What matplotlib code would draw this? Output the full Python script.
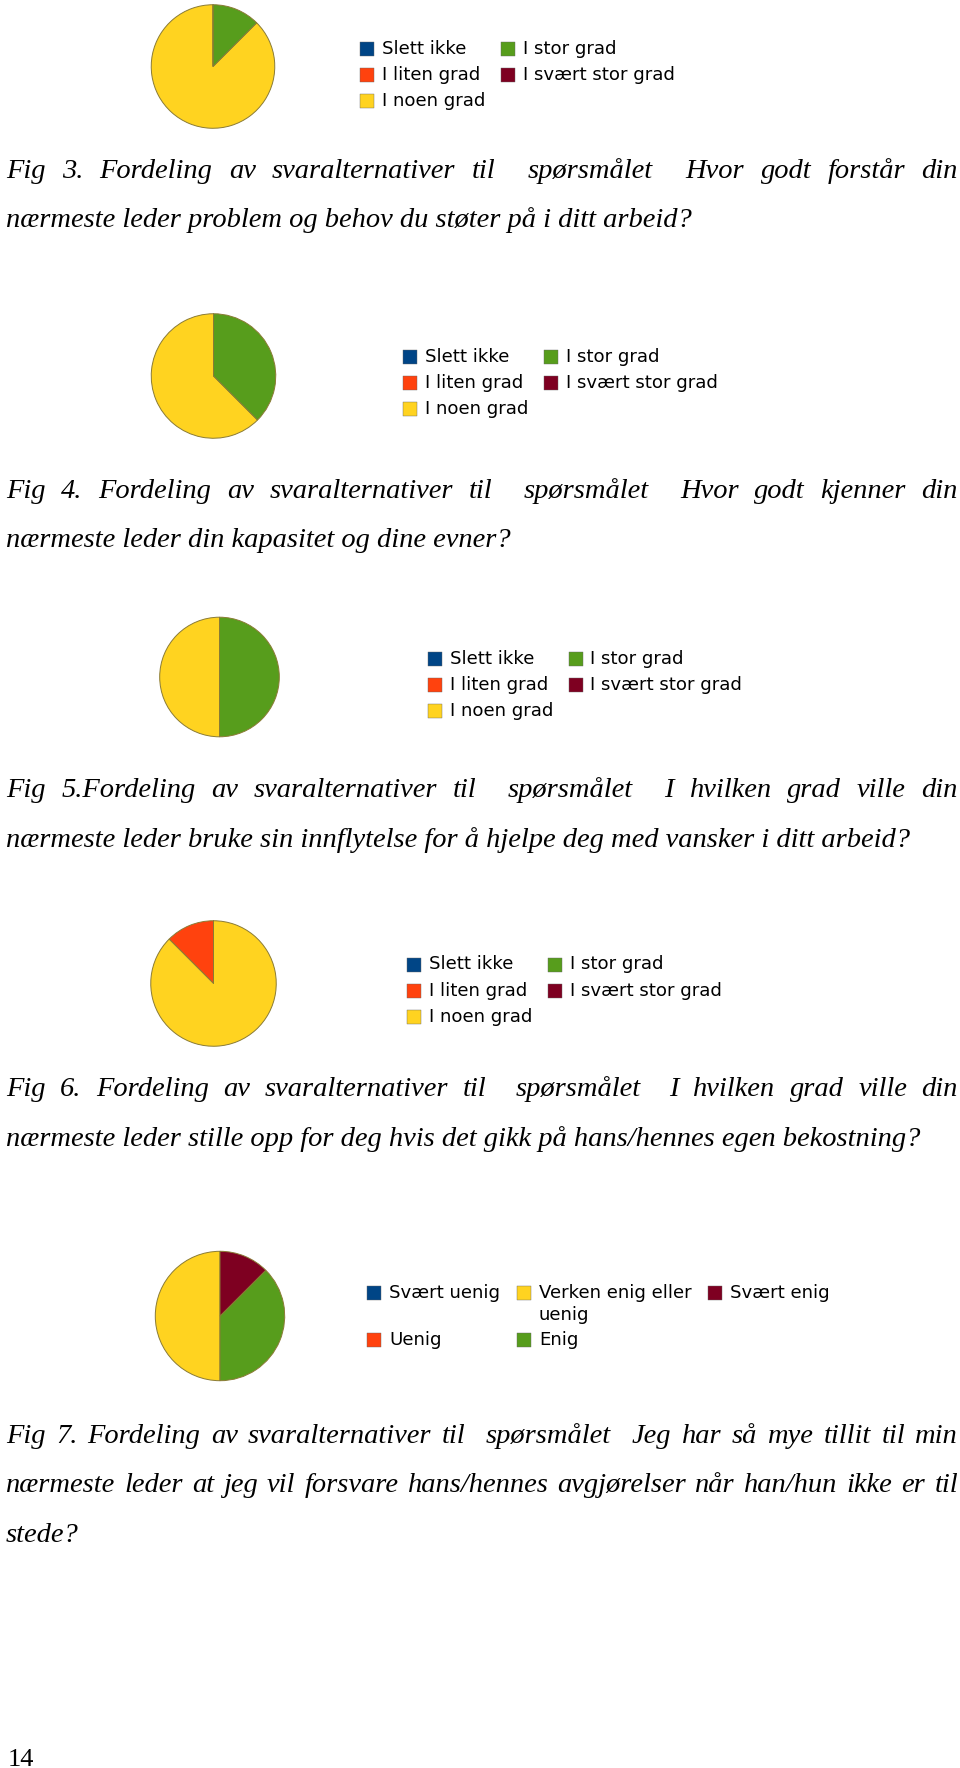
import matplotlib
matplotlib.use('Agg')
import matplotlib.pyplot as plt
from matplotlib.patches import Rectangle

W, H = 960, 1768

# answer categories and colours (LibreOffice default palette)
grad_labels = ['Slett ikke', 'I liten grad', 'I noen grad', 'I stor grad', 'I svært stor grad']
enig_labels = ['Svært uenig', 'Uenig', 'Verken enig eller\nuenig', 'Enig', 'Svært enig']
colors = ['#004586', '#ff420e', '#ffd320', '#579d1c', '#7e0021']

# number of answers per category
fig3_counts = [0, 0, 7, 1, 0]
fig4_counts = [0, 0, 5, 3, 0]
fig5_counts = [0, 0, 4, 4, 0]
fig6_counts = [0, 1, 7, 0, 0]
fig7_counts = [0, 0, 4, 3, 1]

fig3_text = ['Fig 3. Fordeling av svaralternativer til  spørsmålet  Hvor godt forstår din',
             'nærmeste leder problem og behov du støter på i ditt arbeid?']
fig4_text = ['Fig 4. Fordeling av svaralternativer til  spørsmålet  Hvor godt kjenner din',
             'nærmeste leder din kapasitet og dine evner?']
fig5_text = ['Fig 5.Fordeling av svaralternativer til  spørsmålet  I hvilken grad ville din',
             'nærmeste leder bruke sin innflytelse for å hjelpe deg med vansker i ditt arbeid?']
fig6_text = ['Fig 6. Fordeling av svaralternativer til  spørsmålet  I hvilken grad ville din',
             'nærmeste leder stille opp for deg hvis det gikk på hans/hennes egen bekostning?']
fig7_text = ['Fig 7. Fordeling av svaralternativer til  spørsmålet  Jeg har så mye tillit til min',
             'nærmeste leder at jeg vil forsvare hans/hennes avgjørelser når han/hun ikke er til',
             'stede?']
page_no = '14'

fig = plt.figure(figsize=(W / 100, H / 100), dpi=100)
fig.patch.set_facecolor('white')
renderer = fig.canvas.get_renderer()

cap_font = dict(family='Liberation Serif', style='italic', size=20.5)
leg_font = dict(family='DejaVu Sans', size=13.1)


def fx(x):
    return x / W


def fy(y):
    return 1 - y / H


#Draw one pie into its own axes, centre and radius in pixels
def draw_pie(counts, cx, cy, r):
    ax = fig.add_axes([fx(cx - r), fy(cy + r), 2 * r / W, 2 * r / H])
    ax.pie(counts, colors=colors, startangle=90, counterclock=True, radius=1,
           wedgeprops=dict(edgecolor='#8a7b35', linewidth=0.7))
    ax.set_xlim(-1.02, 1.02)
    ax.set_ylim(-1.02, 1.02)
    ax.set_aspect('auto')
    ax.axis('off')


#Legend is filled column by column like in the original
def draw_legend(labels, x0, y0, col_step, nrows, row_step=26):
    sq = 14
    for i, lab in enumerate(labels):
        col = i // nrows
        row = i % nrows
        x = x0 + sum(col_step[:col])
        y = y0 + row * row_step
        fig.patches.append(Rectangle((fx(x), fy(y + sq / 2)), sq / W, sq / H,
                                     transform=fig.transFigure, facecolor=colors[i],
                                     edgecolor='#666666', linewidth=0.3))
        for k, ln in enumerate(lab.split('\n')):
            fig.text(fx(x + 22), fy(y + k * 22), ln, ha='left', va='center', **leg_font)


def text_width(s):
    t = fig.text(0, 0, s, **cap_font)
    w = t.get_window_extent(renderer).width
    t.remove()
    return w


#Justified line: spread the spaces so the line fills the text width
def justify(line, y, left=6, right=958):
    words = line.split(' ')
    n_sp = len(words) - 1
    widths = [text_width(w) if w else 0 for w in words]
    gap = (right - left - sum(widths)) / n_sp
    x = left
    for w, wd in zip(words, widths):
        if w:
            fig.text(fx(x), fy(y), w, ha='left', va='baseline', **cap_font)
        x += wd + gap


def caption(lines, y0, step=49.5):
    for i, ln in enumerate(lines):
        y = y0 + i * step
        if i < len(lines) - 1:
            justify(ln, y)
        else:
            fig.text(fx(6), fy(y), ln, ha='left', va='baseline', **cap_font)


draw_pie(fig3_counts, 213, 66.5, 63)
draw_legend(grad_labels, 360, 48.5, [141], 3)
caption(fig3_text, 177.5)

draw_pie(fig4_counts, 213.5, 376, 63.5)
draw_legend(grad_labels, 403, 356.5, [141], 3)
caption(fig4_text, 497.5)

draw_pie(fig5_counts, 219.5, 677, 61)
draw_legend(grad_labels, 427.5, 659, [141], 3)
caption(fig5_text, 797.5)

draw_pie(fig6_counts, 213.5, 983.5, 64)
draw_legend(grad_labels, 407, 964.5, [141], 3)
caption(fig6_text, 1096.5)

draw_pie(fig7_counts, 220, 1316, 66)
draw_legend(enig_labels, 367, 1293, [150, 191], 2, row_step=47)
caption(fig7_text, 1443)

fig.text(fx(8), fy(1766), page_no, ha='left', va='baseline',
         family='Liberation Serif', size=19)

fig.savefig('out.png', dpi=100, facecolor='white')
